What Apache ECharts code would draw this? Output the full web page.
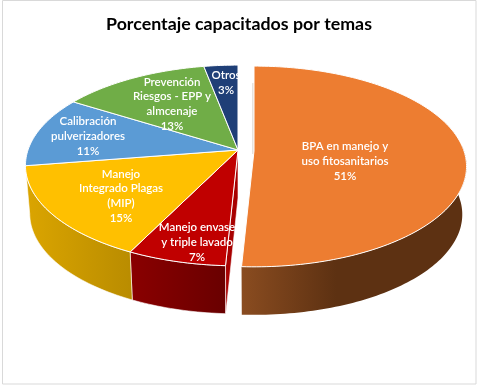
<!DOCTYPE html>
<html><head><meta charset="utf-8">
<script src="https://cdn.jsdelivr.net/npm/echarts@6/dist/echarts.min.js"></script>
<style>html,body{margin:0;padding:0;background:#fff}#c{width:478px;height:385px}</style>
</head><body><div id="c"></div>
<script>
var categories = [
  'BPA en manejo y\nuso fitosanitarios',
  'Manejo envase\ny triple lavado',
  'Manejo\nIntegrado Plagas\n(MIP)',
  'Calibración\npulverizadores',
  'Prevención\nRiesgos - EPP y\nalmcenaje',
  'Otros'
];
var values = [50.8, 6.5, 15.2, 11.4, 13.1, 3.0];
var topColors = ['#ed7d31', '#c00000', '#ffc000', '#5b9bd5', '#70ad47', '#1f3f77'];
var sideStart = ['#8a4c20', '#8a0000', '#dba500'];
var sideEnd = ['#5d3112', '#690000', '#b98c00'];
var labelPlaces = [[345, 161], [197, 242], [121, 196], [88, 136], [172, 104], [226, 83]];

var CX = 238, CY = 150, A = 210, B = 98, K = 0.154, DEPTH = 48, BASE_SHRINK = 0.98;
var EXPLODE = [16, 1];
var total = values.reduce(function (a, b) { return a + b; }, 0);
function startAngle(i) {
  var s = 0;
  for (var j = 0; j < i; j++) s += values[j];
  return s / total * 2 * Math.PI;
}
function rim(t, ox, oy) {
  var x = Math.sin(t), y = -Math.cos(t), w = 1 - K * y;
  return [CX + ox + A * x / w, CY + oy + B * y / w];
}
function arc(a0, a1, ox, oy) {
  var n = Math.max(2, Math.ceil((a1 - a0) / 0.02)), pts = [];
  for (var i = 0; i <= n; i++) pts.push(rim(a0 + (a1 - a0) * i / n, ox, oy));
  return pts;
}
function offset(i) { return i === 0 ? EXPLODE : [0, 0]; }
function lower(p, ox) {
  var c = CX + ox;
  return [c + (p[0] - c) * BASE_SHRINK, p[1] + DEPTH];
}

function renderSide(params) {
  var i = params.dataIndex, o = offset(i);
  var a0 = startAngle(i), a1 = startAngle(i + 1);
  var children = [];
  // outer wall: only the front slices show one
  if (i <= 2) {
    var top = arc(Math.max(a0, Math.PI * 0.5 - 0.06), a1, o[0], o[1]);
    var bottom = top.map(function (p) { return lower(p, o[0]); }).reverse();
    children.push({
      type: 'polygon', shape: { points: top.concat(bottom) },
      style: {
        fill: new echarts.graphic.LinearGradient(0, 0, i === 0 ? 0.42 : 1, 0, [
          { offset: 0, color: sideStart[i] }, { offset: 1, color: sideEnd[i] }
        ]),
        stroke: i === 0 ? null : '#ffffff', lineWidth: i === 0 ? 0 : 0.6
      }
    });
  }
  // inner cut face of the red slice, seen through the exploded gap
  if (i === 1) {
    var p = rim(a0, 0, 0), c = [CX, CY];
    children.push({
      type: 'polygon',
      shape: { points: [c, p, lower(p, 0), lower(c, 0)] },
      style: { fill: '#a80000', stroke: '#ffffff', lineWidth: 0.6 }
    });
  }
  // faint sliver of the exploded slice's back cut face
  if (i === 0) {
    var r = rim(0, o[0], o[1]), ax = CX + o[0], ay = CY + o[1];
    children.push({
      type: 'line',
      shape: { x1: ax - 1, y1: ay + 3, x2: ax - 1 + (r[0] - ax) * 0.8, y2: ay + (r[1] - ay) * 0.8 },
      style: { stroke: '#cfc7be', lineWidth: 1 }
    });
  }
  return { type: 'group', children: children };
}
function renderTop(params) {
  var i = params.dataIndex, o = offset(i);
  var a0 = startAngle(i), a1 = startAngle(i + 1);
  var pts = [[CX + o[0], CY + o[1]]].concat(arc(a0, a1, o[0], o[1]));
  return {
    type: 'polygon', shape: { points: pts },
    style: { fill: topColors[i], stroke: '#ffffff', lineWidth: 1, lineJoin: 'round' }
  };
}
function renderLabel(params) {
  var i = params.dataIndex, p = labelPlaces[i];
  return {
    type: 'text', x: p[0], y: p[1],
    style: {
      text: categories[i] + '\n' + Math.round(values[i] / total * 100) + '%',
      fill: '#ffffff', font: '600 11.5px Lato', lineHeight: 14.8,
      align: 'center', verticalAlign: 'middle'
    }
  };
}
var chart = echarts.init(document.getElementById('c'), null, { renderer: 'canvas' });
function layer(fn, z) {
  return { type: 'custom', coordinateSystem: 'none', data: values, renderItem: fn, z: z, silent: true, animation: false };
}
chart.setOption({
  animation: false,
  backgroundColor: '#ffffff',
  title: {
    text: 'Porcentaje capacitados por temas', left: 'center', top: 10,
    textStyle: { fontFamily: 'Lato', fontWeight: 'bold', fontSize: 17.8, color: '#000000' }
  },
  graphic: [{
    type: 'rect', z: 0, shape: { x: 2.5, y: 0.5, width: 473.5, height: 383.5 },
    style: { fill: 'none', stroke: '#d9d9d9', lineWidth: 1 }
  }],
  series: [layer(renderSide, 1), layer(renderTop, 2), layer(renderLabel, 3)]
});
</script></body></html>
